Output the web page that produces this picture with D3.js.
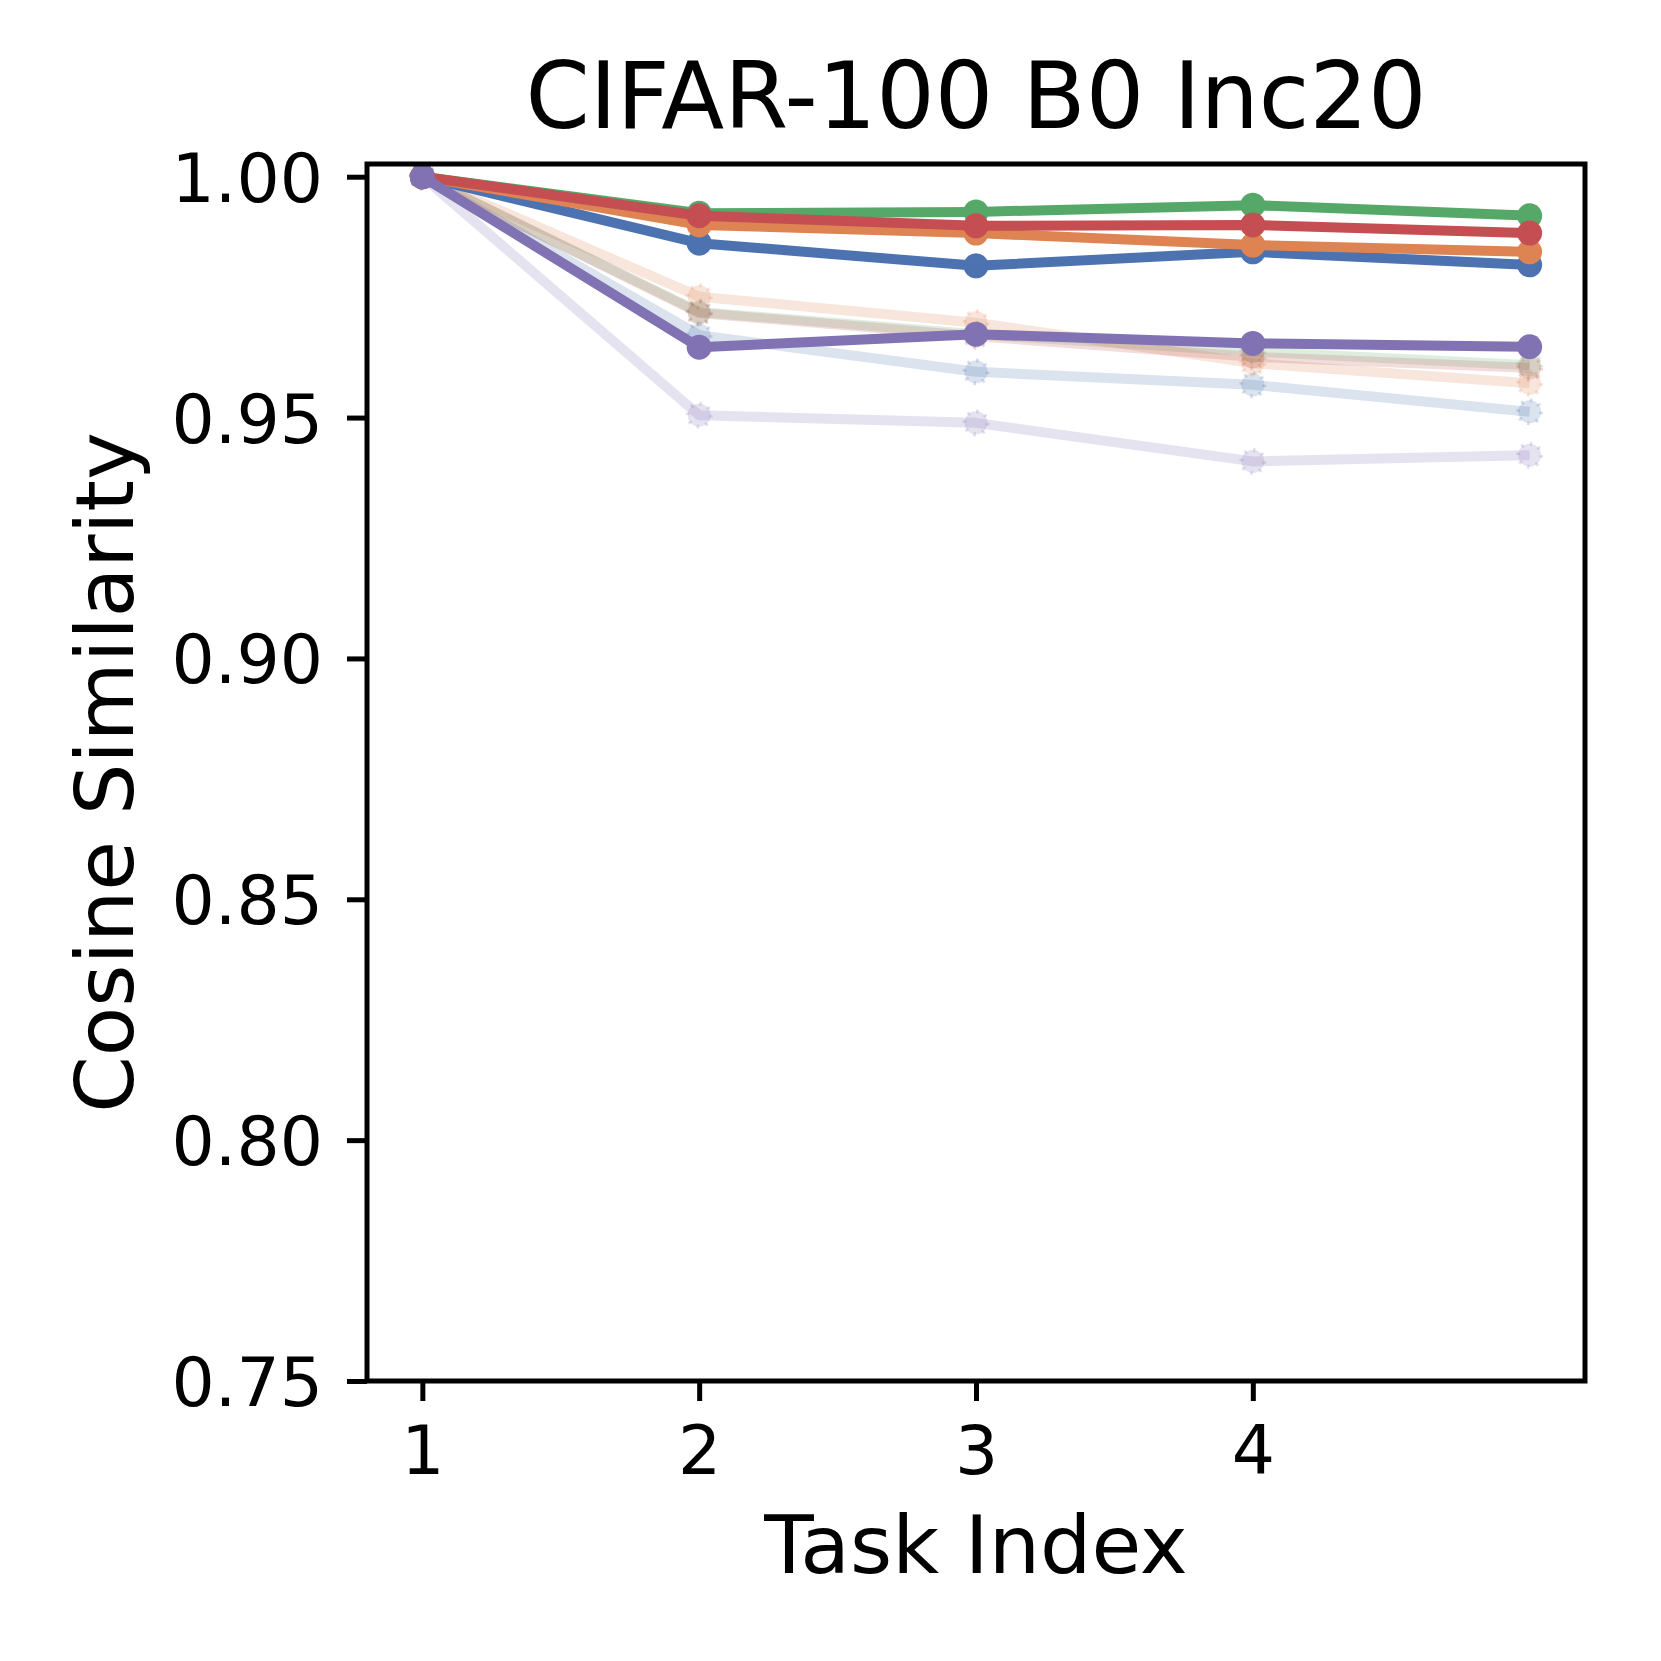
<!DOCTYPE html>
<html>
<head>
<meta charset="utf-8">
<script src="https://cdn.jsdelivr.net/npm/d3@7"></script>
<style>
  html, body { margin: 0; padding: 0; background: #ffffff; }
  svg { display: block; }
  text { font-family: "DejaVu Sans", sans-serif; fill: #000; }
</style>
</head>
<body>
<svg id="chart" width="1661" height="1661"></svg>
<script>
// ---- data ----
const tasks = [1, 2, 3, 4, 5];
const xTickValues = [1, 2, 3, 4];
const xTickLabels = ["1", "2", "3", "4"];
const yTickValues = [0.75, 0.80, 0.85, 0.90, 0.95, 1.00];
const yTickLabels = ["0.75", "0.80", "0.85", "0.90", "0.95", "1.00"];

// faded series (drawn first)
const fadedBlue   = [1.0, 0.9671, 0.9595, 0.9568, 0.9512];
const fadedOrange = [1.0, 0.9751, 0.9697, 0.9613, 0.9571];
const fadedGreen  = [1.0, 0.9719, 0.9673, 0.9637, 0.9609];
const fadedRed    = [1.0, 0.9717, 0.9669, 0.9626, 0.9603];
const fadedPurple = [1.0, 0.9505, 0.9489, 0.9409, 0.9422];

// solid series
const solidBlue   = [1.0, 0.9862, 0.9815, 0.9844, 0.9817];
const solidOrange = [1.0, 0.9900, 0.9883, 0.9858, 0.9844];
const solidGreen  = [1.0, 0.9924, 0.9927, 0.9941, 0.9919];
const solidRed    = [1.0, 0.9919, 0.9898, 0.9900, 0.9883];
const solidPurple = [1.0, 0.9646, 0.9673, 0.9654, 0.9647];

const colors = {
  blue: "#4C72B0", orange: "#DD8452", green: "#55A868", red: "#C44E52", purple: "#8172B3"
};

const fadedSeries = [
  { values: fadedBlue, color: colors.blue },
  { values: fadedOrange, color: colors.orange },
  { values: fadedGreen, color: colors.green },
  { values: fadedRed, color: colors.red },
  { values: fadedPurple, color: colors.purple }
];
const solidSeries = [
  { values: solidBlue, color: colors.blue },
  { values: solidOrange, color: colors.orange },
  { values: solidGreen, color: colors.green },
  { values: solidRed, color: colors.red },
  { values: solidPurple, color: colors.purple }
];

// ---- layout ----
const L = 367, R = 1585, T = 164, B = 1381;
const svg = d3.select("#chart");
svg.append("rect").attr("width", 1661).attr("height", 1661).attr("fill", "#fff");

const x = d3.scaleLinear().domain([0.8, 5.2]).range([L, R]);
const y = d3.scaleLinear().domain([0.75, 1.00264]).range([B, T]);

const line = d3.line().x((d, i) => x(tasks[i])).y(d => y(d));

const plot = svg.append("g");

// faded
fadedSeries.forEach(s => {
  plot.append("path")
    .attr("d", line(s.values))
    .attr("fill", "none")
    .attr("stroke", s.color)
    .attr("stroke-opacity", 0.2)
    .attr("stroke-width", 10)
    .attr("stroke-linejoin", "round")
    .attr("stroke-linecap", "butt");
  plot.selectAll(null).data(s.values).enter().append("circle")
    .attr("cx", (d, i) => x(tasks[i]))
    .attr("cy", d => y(d))
    .attr("r", 11.5)
    .attr("fill", s.color)
    .attr("fill-opacity", 0.2)
    .attr("stroke", s.color)
    .attr("stroke-opacity", 0.22)
    .attr("stroke-width", 4)
    .attr("stroke-dasharray", "2.5 6.5");
});

// solid
solidSeries.forEach(s => {
  plot.append("path")
    .attr("d", line(s.values))
    .attr("fill", "none")
    .attr("stroke", s.color)
    .attr("stroke-width", 10)
    .attr("stroke-linejoin", "round")
    .attr("stroke-linecap", "butt");
  plot.selectAll(null).data(s.values).enter().append("circle")
    .attr("cx", (d, i) => x(tasks[i]))
    .attr("cy", d => y(d))
    .attr("r", 12.5)
    .attr("fill", s.color);
});

// ---- axes ----
const yAxis = d3.axisLeft(y)
  .tickValues(yTickValues)
  .tickFormat((d, i) => yTickLabels[i])
  .tickSize(20).tickSizeOuter(0).tickPadding(24);
const gy = svg.append("g").attr("transform", `translate(${L},0)`).call(yAxis);
gy.select(".domain").remove();
gy.selectAll(".tick line").attr("stroke", "#000").attr("stroke-width", 5);
gy.selectAll(".tick text")
  .attr("dy", "0.36em")
  .style("font-family", "'DejaVu Sans', sans-serif")
  .style("font-size", "68px")
  .attr("fill", "#000");

const xAxis = d3.axisBottom(x)
  .tickValues(xTickValues)
  .tickFormat((d, i) => xTickLabels[i])
  .tickSize(20).tickSizeOuter(0);
const gx = svg.append("g").attr("transform", `translate(0,${B})`).call(xAxis);
gx.select(".domain").remove();
gx.selectAll(".tick line").attr("stroke", "#000").attr("stroke-width", 5);
gx.selectAll(".tick text")
  .attr("y", 1474 - B)
  .attr("dy", 0)
  .style("font-family", "'DejaVu Sans', sans-serif")
  .style("font-size", "68px")
  .attr("fill", "#000");

// frame
svg.append("rect")
  .attr("x", L).attr("y", T)
  .attr("width", R - L).attr("height", B - T)
  .attr("fill", "none")
  .attr("stroke", "#000")
  .attr("stroke-width", 5)
  .attr("stroke-linejoin", "miter");

// ---- labels ----
svg.append("text")
  .attr("x", (L + R) / 2).attr("y", 128)
  .attr("text-anchor", "middle")
  .style("font-size", "92px")
  .text("CIFAR-100 B0 Inc20");

svg.append("text")
  .attr("x", (L + R) / 2).attr("y", 1573)
  .attr("text-anchor", "middle")
  .style("font-size", "81px")
  .text("Task Index");

svg.append("text")
  .attr("transform", `translate(133,${(T + B) / 2}) rotate(-90)`)
  .attr("text-anchor", "middle")
  .style("font-size", "81px")
  .text("Cosine Similarity");
</script>
</body>
</html>
